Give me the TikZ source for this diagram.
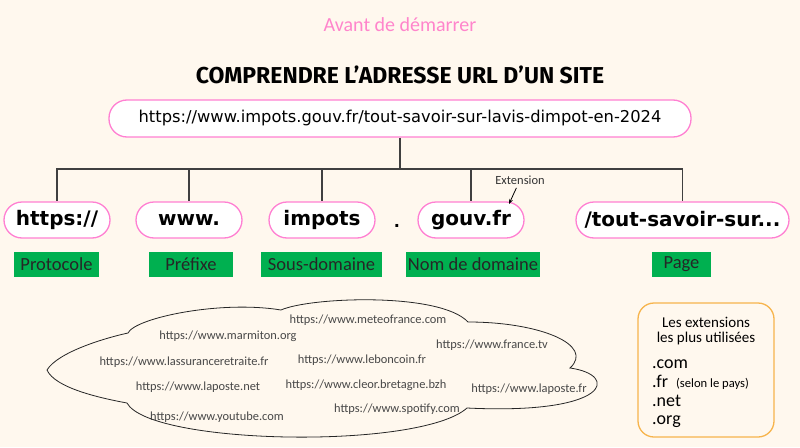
\documentclass[tikz,border=0pt]{standalone}
\usepackage{fontspec}
\setmainfont{Carlito}
\newfontfamily\titlefont{Fira Sans}
\newfontfamily\urlfont{DejaVu Sans}
\usetikzlibrary{positioning, calc, arrows.meta}

\tikzset{
  part/.style={draw=rose, line width=1.3pt, fill=white, rounded corners=18pt,
    minimum height=36pt, minimum width=106pt, inner sep=0pt,
    font=\urlfont\bfseries\fontsize{20}{24}\selectfont},
  tag/.style={fill=vert, minimum height=25pt, inner sep=0pt, text=black!85,
    font=\fontsize{18.5}{22}\selectfont},
  site/.style={text=black!72, inner sep=0pt, font=\fontsize{12.4}{15}\selectfont},
  wire/.style={line width=1.6pt, draw=black!75},
  extline/.style={anchor=base west, inner sep=0pt, font=\fontsize{18}{21}\selectfont},
}

\begin{document}
\begin{tikzpicture}[x=1pt, y=-1pt]
% --- CORES ---
\definecolor{fond}{HTML}{FFF8EE}
\definecolor{rose}{HTML}{FF80D2}
\definecolor{rosetxt}{HTML}{FF85CC}
\definecolor{vert}{HTML}{00B050}
\definecolor{orangebox}{HTML}{F7B44C}

% LAYER 0: fond
\fill[fond] (0,0) rectangle (800,447);
\useasboundingbox (0,0) rectangle (800,447);

% LAYER 1: titres
\node[text=rosetxt, font=\fontsize{20}{23}\selectfont] (avant) at (400,25) {Avant de démarrer};
\node[font=\titlefont\bfseries\fontsize{23}{27}\selectfont] (titre) at (400,75) {COMPRENDRE L’ADRESSE URL D’UN SITE};

% LAYER 2: adresse complete
\node[part, minimum width=582pt, minimum height=37pt, font=\urlfont\fontsize{16.3}{19}\selectfont] (url) at (400,118.5)
  {https://www.impots.gouv.fr/tout-savoir-sur-lavis-dimpot-en-2024};

% LAYER 3: morceaux de l'adresse
\node[part] (proto) at (57,220) {https://};
\node[part] (pref) at (189,220) {www.};
\node[part] (sous) at (322,220) {impots};
\node[inner sep=0pt, font=\urlfont\bfseries\fontsize{16}{19}\selectfont] (point) at (397,226) {.};
\node[part] (dom) at (471,220) {gouv.fr};
\node[part, minimum width=213pt] (page) at (682.5,220) {/tout-savoir-sur...};

% LAYER 4: etiquettes vertes
\node[tag, minimum width=85pt] (lproto) at (56.5,264.5) {Protocole};
\node[tag, minimum width=84pt] (lpref) at (191,264.5) {Préfixe};
\node[tag, minimum width=121pt] (lsous) at (321.5,264.5) {Sous-domaine};
\node[tag, minimum width=134pt] (ldom) at (473,264.5) {Nom de domaine};
\node[tag, minimum width=59pt] (lpage) at (681.5,264.5) {Page};

% LAYER 5: arbre
\coordinate (bus) at (400,169);
\draw[wire] (url.south) -- (bus);
\foreach \n in {proto,pref,sous,dom,page}
  \draw[wire] (bus) -| (\n.north);

% extension
\node[text=black!80, font=\fontsize{12.5}{15}\selectfont] (ext) at (520,180) {Extension};
\coordinate (exttip) at (509,204);
\draw[thick, -{Stealth[length=5pt]}] (ext) -- (exttip);

% LAYER 6: nuage des sites
\draw[line width=0.8pt, black!85] (47,370)
  .. controls (58,352) and (105,338) .. (128,333)
  .. controls (135,318) and (220,300) .. (281,310)
  .. controls (310,297) and (440,292) .. (468,322)
  .. controls (540,322) and (595,345) .. (570,368)
  .. controls (620,375) and (610,415) .. (467,408)
  .. controls (420,450) and (150,445) .. (127,403)
  .. controls (100,398) and (55,388) .. (47,370) -- cycle;

\node[site] (s1) at (368,320) {https://www.meteofrance.com};
\node[site] (s2) at (228,336) {https://www.marmiton.org};
\node[site] (s3) at (492,345) {https://www.france.tv};
\node[site] (s4) at (184,362) {https://www.lassuranceretraite.fr};
\node[site] (s5) at (362,360) {https://www.leboncoin.fr};
\node[site] (s6) at (198,387) {https://www.laposte.net};
\node[site] (s7) at (366,385) {https://www.cleor.bretagne.bzh};
\node[site] (s8) at (529,389) {https://www.laposte.fr};
\node[site] (s9) at (217,417) {https://www.youtube.com};
\node[site] (s10) at (397,409) {https://www.spotify.com};

% LAYER 7: encadre des extensions
\draw[orangebox, line width=1.3pt, rounded corners=16pt] (638,303) rectangle (774,437);
\node[align=center, inner sep=0pt, font=\fontsize{15}{15}\selectfont] (exttitre) at (706,331) {Les extensions\\les plus utilisées};
\node[extline] (com) at (652,368) {.com};
\node[extline] (fr) at (652,387.5) {.fr\hspace{8pt}{\fontsize{12.6}{15}\selectfont(selon le pays)}};
\node[extline] (net) at (652,406.5) {.net};
\node[extline] (org) at (652,424) {.org};
\end{tikzpicture}
\end{document}
